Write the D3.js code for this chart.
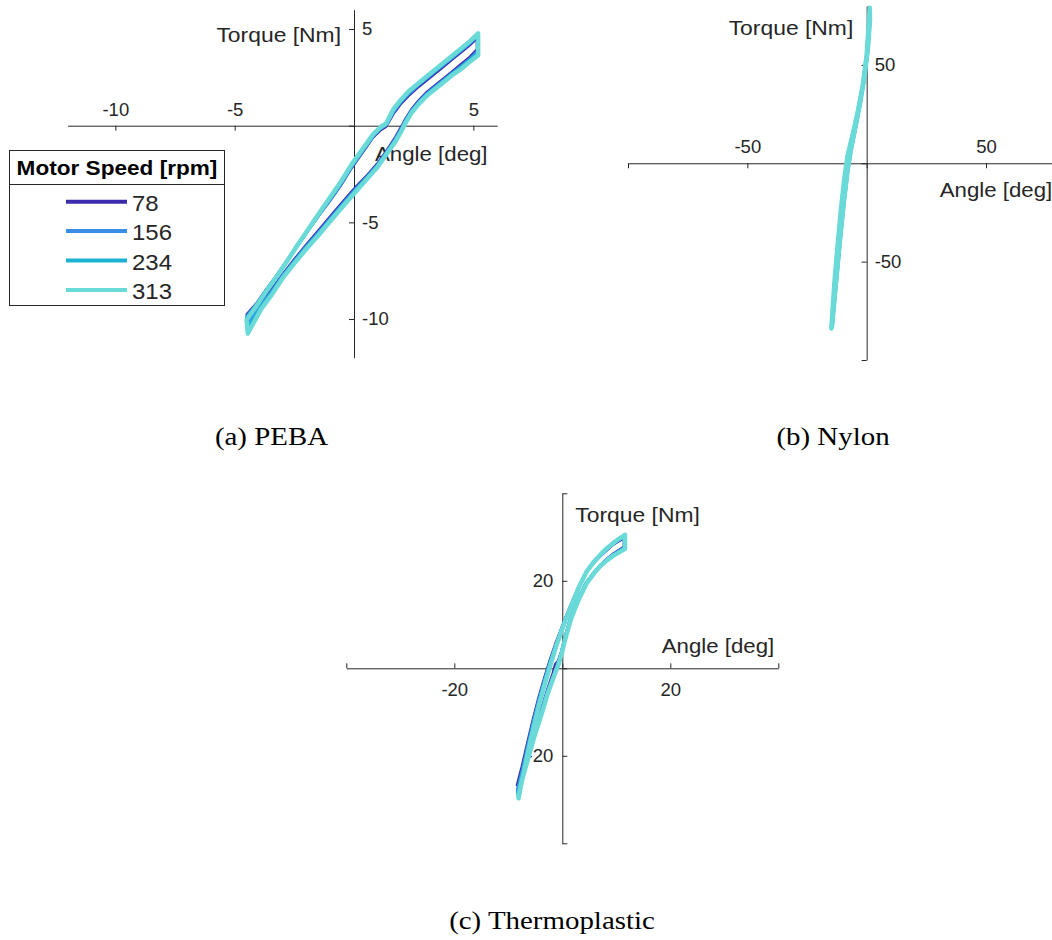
<!DOCTYPE html>
<html>
<head>
<meta charset="utf-8">
<script src="https://cdn.jsdelivr.net/npm/d3@7"></script>
<style>
  body { margin: 0; background: #fff; }
  svg { display: block; }
</style>
</head>
<body>
<svg id="fig" width="1052" height="940"></svg>
<script>
// ---- Motor speeds and their styles ----
const speeds = ["78", "156", "234", "313"];
const speedColors = ["#3b2cae", "#3a8de6", "#1cb2d5", "#69dad7"];
const legendTitle = "Motor Speed [rpm]";

// ---- (a) PEBA: torque–angle loops, [angle deg, torque Nm] ----
const peba78 = [[-4.50,-9.75],[-4.10,-9.20],[-3.70,-8.50],[-3.25,-7.75],[-2.80,-6.95],[-2.35,-6.15],[-1.90,-5.40],[-1.45,-4.62],[-1.00,-3.88],[-0.55,-3.10],[-0.10,-2.20],[0.35,-1.42],[0.80,-0.62],[1.10,-0.25],[1.35,-0.05],[1.65,0.60],[1.95,1.10],[2.30,1.55],[2.65,1.95],[3.00,2.30],[3.35,2.65],[3.70,3.00],[4.05,3.35],[4.40,3.70],[4.80,4.10],[5.15,4.50],
  [5.15,3.95],[4.80,3.50],[4.45,3.15],[4.10,2.80],[3.75,2.45],[3.40,2.10],[3.05,1.75],[2.70,1.30],[2.40,0.85],[2.15,0.35],[2.00,0.00],[1.72,-0.60],[1.38,-1.25],[0.98,-1.95],[0.55,-2.55],[0.08,-3.15],[-0.45,-3.90],[-0.97,-4.65],[-1.48,-5.40],[-2.00,-6.15],[-2.50,-6.90],[-3.00,-7.70],[-3.45,-8.45],[-3.90,-9.15],[-4.45,-9.85]];
const peba156 = [[-4.50,-9.85],[-4.10,-9.25],[-3.70,-8.55],[-3.25,-7.78],[-2.80,-6.98],[-2.35,-6.15],[-1.90,-5.38],[-1.45,-4.58],[-1.00,-3.82],[-0.55,-3.03],[-0.10,-2.13],[0.35,-1.34],[0.80,-0.55],[1.10,-0.17],[1.35,0.03],[1.65,0.70],[1.95,1.20],[2.30,1.65],[2.65,2.05],[3.00,2.40],[3.35,2.75],[3.70,3.10],[4.05,3.45],[4.40,3.80],[4.80,4.20],[5.17,4.62],
  [5.17,3.85],[4.80,3.40],[4.45,3.05],[4.10,2.72],[3.75,2.37],[3.40,2.02],[3.05,1.67],[2.70,1.22],[2.40,0.77],[2.15,0.27],[2.00,-0.10],[1.72,-0.70],[1.38,-1.33],[0.98,-2.03],[0.55,-2.63],[0.08,-3.25],[-0.45,-4.00],[-0.97,-4.75],[-1.48,-5.50],[-2.00,-6.23],[-2.50,-6.98],[-3.00,-7.77],[-3.45,-8.55],[-3.90,-9.30],[-4.45,-10.15]];
const peba234 = [[-4.50,-9.95],[-4.10,-9.30],[-3.70,-8.58],[-3.25,-7.80],[-2.80,-7.00],[-2.35,-6.15],[-1.90,-5.36],[-1.45,-4.55],[-1.00,-3.77],[-0.55,-2.97],[-0.10,-2.07],[0.35,-1.28],[0.80,-0.50],[1.10,-0.12],[1.35,0.08],[1.65,0.78],[1.95,1.26],[2.30,1.72],[2.65,2.10],[3.00,2.45],[3.35,2.80],[3.70,3.15],[4.05,3.50],[4.40,3.85],[4.80,4.25],[5.19,4.70],
  [5.19,3.75],[4.80,3.33],[4.45,2.98],[4.10,2.66],[3.75,2.31],[3.40,1.96],[3.05,1.61],[2.70,1.16],[2.40,0.71],[2.15,0.19],[2.00,-0.18],[1.72,-0.78],[1.38,-1.39],[0.98,-2.09],[0.55,-2.69],[0.08,-3.33],[-0.45,-4.08],[-0.97,-4.83],[-1.48,-5.58],[-2.00,-6.30],[-2.50,-7.04],[-3.00,-7.82],[-3.45,-8.65],[-3.90,-9.40],[-4.45,-10.45]];
const peba313 = [[-4.50,-10.05],[-4.10,-9.35],[-3.70,-8.62],[-3.25,-7.82],[-2.80,-7.00],[-2.35,-6.15],[-1.90,-5.33],[-1.45,-4.50],[-1.00,-3.70],[-0.55,-2.90],[-0.10,-2.00],[0.35,-1.22],[0.80,-0.45],[1.10,-0.08],[1.35,0.12],[1.65,0.85],[1.95,1.32],[2.30,1.80],[2.65,2.15],[3.00,2.50],[3.35,2.85],[3.70,3.20],[4.05,3.55],[4.40,3.90],[4.80,4.30],[5.20,4.78],
  [5.20,3.65],[4.80,3.25],[4.45,2.90],[4.10,2.60],[3.75,2.25],[3.40,1.90],[3.05,1.55],[2.70,1.10],[2.40,0.65],[2.15,0.12],[2.00,-0.25],[1.72,-0.85],[1.38,-1.45],[0.98,-2.15],[0.55,-2.75],[0.08,-3.40],[-0.45,-4.15],[-0.97,-4.90],[-1.48,-5.65],[-2.00,-6.38],[-2.50,-7.12],[-3.00,-7.90],[-3.45,-8.75],[-3.90,-9.50],[-4.45,-10.75]];

// ---- (b) Nylon ----
const nylon78 = [[-14.5,-82],[-13.4,-61],[-12.0,-41],[-10.7,-24],[-9.2,-7],[-7.8,4],[-5.7,15],[-3.5,27],[-1.5,40],[0.1,55],[1.3,77],
  [1.4,72],[0.5,57],[-0.9,43],[-2.7,30],[-4.5,18],[-6.4,7],[-7.8,-4],[-9.4,-20],[-10.9,-37],[-12.6,-59],[-14.3,-81]];
const nylon156 = [[-14.6,-83],[-13.5,-61],[-12.1,-41],[-10.8,-24],[-9.3,-7],[-7.9,4],[-5.7,15],[-3.5,27],[-1.5,40],[0.1,55],[1.3,78],
  [1.4,73],[0.5,57],[-0.9,43],[-2.7,30],[-4.6,18],[-6.5,7],[-7.9,-4],[-9.5,-20],[-11.0,-37],[-12.7,-60],[-14.4,-82]];
const nylon234 = [[-14.7,-83],[-13.5,-62],[-12.1,-42],[-10.8,-25],[-9.3,-8],[-7.9,4],[-5.8,15],[-3.6,27],[-1.6,40],[0.0,55],[1.3,78],
  [1.4,73],[0.5,58],[-0.9,44],[-2.7,31],[-4.6,19],[-6.5,7],[-8.0,-4],[-9.5,-20],[-11.0,-38],[-12.7,-60],[-14.5,-83]];
const nylon313 = [[-14.8,-84],[-13.6,-62],[-12.2,-42],[-10.9,-25],[-9.4,-8],[-8.0,4],[-5.8,15],[-3.6,27],[-1.6,40],[0.0,55],[1.3,79],
  [1.4,73],[0.5,58],[-0.9,44],[-2.7,31],[-4.6,19],[-6.6,7],[-8.0,-4],[-9.6,-20],[-11.1,-38],[-12.8,-60],[-14.5,-83]];

// ---- (c) Thermoplastic ----
const thermo78 = [[-8.4,-26.7],[-7.5,-22.4],[-6.6,-17.6],[-5.6,-12.4],[-4.5,-7.1],[-3.4,-2.4],[-2.3,2.0],[-1.3,5.6],[-0.5,8.1],[0.4,11.0],[1.5,14.3],[2.9,18.2],[4.4,21.8],[5.7,23.9],[7.0,25.5],[8.2,26.9],[9.3,28.1],[10.4,29.0],[11.4,29.7],
  [11.4,27.8],[10.4,27.0],[9.3,26.1],[8.2,25.0],[7.0,23.6],[5.7,21.7],[4.4,19.6],[2.9,15.9],[1.5,11.5],[0.4,6.9],[-0.2,3.8],[-0.8,1.7],[-1.3,1.0],[-1.8,-1.2],[-2.8,-4.9],[-3.9,-9.4],[-5.2,-14.3],[-6.5,-19.5],[-7.6,-23.8],[-8.4,-26.7]];
const thermo156 = [[-8.3,-27.6],[-7.4,-23.1],[-6.5,-18.1],[-5.5,-12.8],[-4.4,-7.4],[-3.3,-2.6],[-2.2,1.8],[-1.2,5.4],[-0.5,7.9],[0.4,10.9],[1.5,14.2],[2.9,18.3],[4.4,22.0],[5.7,24.1],[7.0,25.7],[8.2,27.1],[9.3,28.3],[10.4,29.3],[11.5,30.1],
  [11.5,27.6],[10.4,26.8],[9.3,25.9],[8.2,24.8],[7.0,23.4],[5.7,21.6],[4.4,19.5],[2.9,15.8],[1.5,11.4],[0.4,6.7],[-0.2,3.6],[-0.8,1.3],[-1.6,-1.6],[-2.8,-5.3],[-3.9,-9.8],[-5.2,-14.8],[-6.4,-20.0],[-7.6,-24.8],[-8.3,-28.2]];
const thermo234 = [[-8.2,-28.4],[-7.3,-23.7],[-6.4,-18.5],[-5.4,-13.1],[-4.3,-7.6],[-3.2,-2.8],[-2.1,1.7],[-1.1,5.3],[-0.4,7.7],[0.5,10.8],[1.6,14.1],[3.0,18.3],[4.5,22.1],[5.8,24.2],[7.0,25.8],[8.2,27.3],[9.4,28.5],[10.5,29.5],[11.6,30.3],
  [11.6,27.4],[10.5,26.6],[9.4,25.8],[8.2,24.7],[7.0,23.4],[5.8,21.7],[4.5,19.5],[3.0,15.7],[1.6,11.3],[0.5,6.6],[-0.1,3.5],[-0.7,1.1],[-1.6,-1.8],[-2.7,-5.6],[-3.8,-10.1],[-5.1,-15.0],[-6.3,-20.2],[-7.5,-25.1],[-8.2,-29.0]];
const thermo313 = [[-8.1,-29.2],[-7.2,-24.3],[-6.3,-18.9],[-5.3,-13.4],[-4.2,-7.8],[-3.1,-3.0],[-2.0,1.6],[-1.1,5.2],[-0.4,7.6],[0.5,10.7],[1.6,14.1],[3.0,18.3],[4.5,22.1],[5.8,24.3],[7.0,25.9],[8.2,27.4],[9.4,28.6],[10.5,29.6],[11.6,30.5],
  [11.6,27.3],[10.5,26.5],[9.4,25.7],[8.2,24.6],[7.0,23.3],[5.8,21.6],[4.5,19.4],[3.0,15.6],[1.6,11.2],[0.5,6.5],[-0.1,3.4],[-0.7,0.9],[-1.6,-2.0],[-2.7,-5.8],[-3.8,-10.3],[-5.1,-15.3],[-6.3,-20.5],[-7.5,-25.7],[-8.1,-29.7]];

// ---- Axis limits, ticks and tick labels ----
const pebaLimits = [-12, 6];
const pebaTicks = [-10, -5, 0, 5];
const pebaTickLabels = ["-10", "-5", "", "5"];
const nylonLimits = [-100, 80];
const nylonTicks = [-100, -50, 0, 50];
const nylonTickLabels = ["", "-50", "", "50"];
const thermoLimits = [-40, 40];
const thermoTicks = [-40, -20, 0, 20, 40];
const thermoTickLabels = ["", "-20", "", "20", ""];

const xLabel = "Angle [deg]";
const yLabel = "Torque [Nm]";
const captions = ["(a) PEBA", "(b) Nylon", "(c) Thermoplastic"];

// ---- Styling ----
const INK = "#262626";
const SANS = "'Liberation Sans', Arial, Helvetica, sans-serif";
const SERIF = "'Liberation Serif', 'Times New Roman', serif";
const plotWidths = [2.4, 3, 3.6, 4.5];
const SX = 1.09;     // horizontal stretch of sans text
const SX_CAP = 1.18; // horizontal stretch of caption text

const svg = d3.select("#fig");
svg.append("rect").attr("width", 1052).attr("height", 940).attr("fill", "#fff");

function addText(parent, x, y, str, o) {
  return parent.append("text")
    .attr("transform", `translate(${x},${y}) scale(${o.sx || 1},1)`)
    .attr("text-anchor", o.anchor || "start")
    .attr("font-family", o.family || SANS)
    .attr("font-size", o.size)
    .attr("font-weight", o.weight || "normal")
    .attr("fill", o.fill || INK)
    .text(str);
}

// Panel layout (pixel boxes of the axis ranges)
const panels = [
  { series: [peba78, peba156, peba234, peba313], xLim: pebaLimits, yLim: pebaLimits,
    xTicks: pebaTicks, yTicks: pebaTicks, xTickLabels: pebaTickLabels, yTickLabels: pebaTickLabels,
    xRange: [67.6, 497.2], yRange: [357.7, 9.7], flip: false,
    yLabelPos: [-13, 42, "end"], xLabelPos: [21, 35],
    caption: captions[0], capPos: [271.5, 444.5] },
  { series: [nylon78, nylon156, nylon234, nylon313], xLim: nylonLimits, yLim: nylonLimits,
    xTicks: nylonTicks, yTicks: nylonTicks, xTickLabels: nylonTickLabels, yTickLabels: nylonTickLabels,
    xRange: [628.0, 1057.6], yRange: [360.0, 5.9], flip: false,
    yLabelPos: [-13.4, 35, "end"], xLabelPos: [73, 33.4],
    caption: captions[1], capPos: [833, 444.5] },
  { series: [thermo78, thermo156, thermo234, thermo313], xLim: thermoLimits, yLim: thermoLimits,
    xTicks: thermoTicks, yTicks: thermoTicks, xTickLabels: thermoTickLabels, yTickLabels: thermoTickLabels,
    xRange: [346.3, 778.3], yRange: [843.3, 493.3], flip: true,
    yLabelPos: [13, 521.7, "start"], xLabelPos: [99.4, -15],
    caption: captions[2], capPos: [552, 929] }
];

function styleAxis(g) {
  g.attr("font-family", SANS).attr("font-size", 18.5);
  g.select(".domain").attr("stroke", INK).attr("stroke-width", 1);
  g.selectAll(".tick line").attr("stroke", INK).attr("stroke-width", 1);
  g.selectAll(".tick text").attr("fill", INK);
}

panels.forEach(p => {
  const x = d3.scaleLinear().domain(p.xLim).range(p.xRange);
  const y = d3.scaleLinear().domain(p.yLim).range(p.yRange);
  const g = svg.append("g");
  const x0 = x(0), y0 = y(0);

  // axes crossing at the origin; ticks point away from their labels
  const xAxis = (p.flip ? d3.axisBottom(x) : d3.axisTop(x))
    .tickValues(p.xTicks).tickFormat((d, i) => p.xTickLabels[i])
    .tickSizeInner(-5).tickSizeOuter(0).tickPadding(p.flip ? 15 : 10);
  const yAxis = (p.flip ? d3.axisLeft(y) : d3.axisRight(y))
    .tickValues(p.yTicks).tickFormat((d, i) => p.yTickLabels[i])
    .tickSizeInner(-5).tickSizeOuter(0).tickPadding(p.flip ? 9 : 8);

  g.append("g").attr("transform", `translate(0,${y0})`).call(xAxis).call(styleAxis);
  g.append("g").attr("transform", `translate(${x0},0)`).call(yAxis).call(styleAxis);

  // axis labels
  addText(g, x0 + p.yLabelPos[0], p.yLabelPos[1], yLabel, { size: 21, sx: SX, anchor: p.yLabelPos[2] });
  addText(g, x0 + p.xLabelPos[0], y0 + p.xLabelPos[1], xLabel, { size: 21, sx: 1.06 });

  // hysteresis loops, slowest speed first
  const line = d3.line().x(d => x(d[0])).y(d => y(d[1]));
  p.series.forEach((pts, i) => {
    g.append("path")
      .attr("d", line(pts) + "Z")
      .attr("fill", "none")
      .attr("stroke", speedColors[i])
      .attr("stroke-width", plotWidths[i])
      .attr("stroke-linejoin", "round")
      .attr("stroke-linecap", "round");
  });

  addText(svg, p.capPos[0], p.capPos[1], p.caption, { size: 24.5, sx: SX_CAP, anchor: "middle", family: SERIF, fill: "#000" });
});

// ---- Legend ----
const leg = svg.append("g");
leg.append("rect").attr("x", 9.5).attr("y", 150.5).attr("width", 215).attr("height", 155)
  .attr("fill", "#fff").attr("stroke", INK).attr("stroke-width", 1);
leg.append("line").attr("x1", 9.5).attr("x2", 224.5).attr("y1", 184.5).attr("y2", 184.5)
  .attr("stroke", INK).attr("stroke-width", 1);
addText(leg, 117, 174.5, legendTitle, { size: 20, sx: 1.13, anchor: "middle", weight: "bold", fill: "#000" });
speeds.forEach((s, i) => {
  const ly = 201.7 + i * 29.4;
  leg.append("line").attr("x1", 66).attr("x2", 127).attr("y1", ly).attr("y2", ly)
    .attr("stroke", speedColors[i]).attr("stroke-width", 4);
  addText(leg, 132, ly + 9, s, { size: 22, sx: SX });
});
</script>
</body>
</html>
